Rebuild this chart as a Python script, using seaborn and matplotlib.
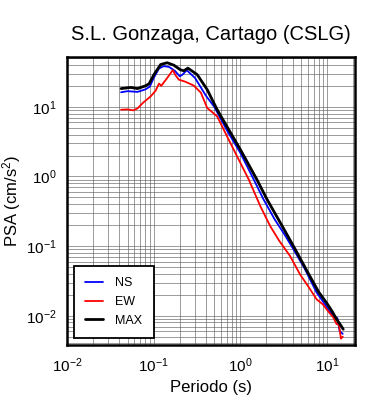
import seaborn as sns
import matplotlib.pyplot as plt
import pandas as pd

# Periods (s) and PSA (cm/s^2)
ns_period = [0.042, 0.05, 0.065, 0.08, 0.09, 0.1, 0.115, 0.13, 0.15, 0.175, 0.2, 0.215, 0.24,
             0.3, 0.4, 0.5, 0.7, 1.0, 1.4, 1.85, 2.5, 3.2, 4.1, 5.5, 7.6, 9.5, 10.8, 12.0, 13.2, 14.0, 15.2]
ns_psa = [16.2, 16.8, 16.4, 17.8, 19.5, 26.0, 35.5, 38.4, 37.5, 33.0, 27.5, 29.0, 33.6,
          26.0, 14.5, 10.0, 4.6, 2.18, 0.95, 0.47, 0.24, 0.15, 0.09, 0.048, 0.0215, 0.0145, 0.0116, 0.0098, 0.0092, 0.006, 0.0055]

ew_period = [0.042, 0.05, 0.058, 0.065, 0.075, 0.0925, 0.105, 0.115, 0.122, 0.143, 0.166, 0.18, 0.195,
             0.233, 0.29, 0.35, 0.414, 0.54, 0.7, 1.0, 1.25, 1.7, 2.21, 2.8, 3.75, 4.9, 6.0, 7.6, 9.0, 10.3, 11.8, 12.9, 13.7, 14.5, 15.2]
ew_psa = [9.1, 9.2, 8.9, 9.5, 11.4, 14.2, 17.0, 21.6, 20.0, 26.0, 33.6, 28.0, 24.6,
          22.9, 20.2, 16.0, 9.65, 7.3, 3.8, 1.57, 0.905, 0.375, 0.194, 0.12, 0.072, 0.039, 0.027, 0.0172, 0.0145, 0.0116, 0.0095, 0.0076, 0.0075, 0.0047, 0.005]

max_period = [0.042, 0.0545, 0.0649, 0.08, 0.0883, 0.1006, 0.12, 0.143, 0.171, 0.204, 0.223, 0.248,
              0.318, 0.414, 0.54, 0.75, 1.0, 1.55, 2.03, 3.0, 4.1, 6.0, 8.0, 9.9, 11.5, 12.9, 14.2, 15.4]
max_psa = [18.3, 19.0, 18.3, 20.0, 21.4, 29.0, 40.5, 43.0, 39.6, 34.0, 33.0, 36.0,
           29.0, 17.7, 9.1, 4.5, 2.44, 0.905, 0.47, 0.2, 0.1, 0.042, 0.022, 0.0153, 0.0115, 0.0089, 0.0075, 0.0064]

components = ['NS', 'EW', 'MAX']
colors = {'NS': 'blue', 'EW': 'red', 'MAX': 'black'}
widths = {'NS': 1.3, 'EW': 1.3, 'MAX': 2.0}

df = pd.concat([
    pd.DataFrame({'Periodo': ns_period, 'PSA': ns_psa, 'comp': 'NS'}),
    pd.DataFrame({'Periodo': ew_period, 'PSA': ew_psa, 'comp': 'EW'}),
    pd.DataFrame({'Periodo': max_period, 'PSA': max_psa, 'comp': 'MAX'}),
])

sns.set_style('white')
plt.rcParams['font.family'] = ['Liberation Sans', 'DejaVu Sans']
plt.rcParams['mathtext.fontset'] = 'custom'
plt.rcParams['mathtext.rm'] = 'Liberation Sans'
plt.rcParams['mathtext.it'] = 'Liberation Sans'
plt.rcParams['text.color'] = 'black'
plt.rcParams['axes.labelcolor'] = 'black'
plt.rcParams['xtick.labelcolor'] = 'black'
plt.rcParams['ytick.labelcolor'] = 'black'

fig = plt.figure(figsize=(3.9, 4.0), dpi=100)
ax = fig.add_axes([0.172, 0.1375, 0.738, 0.72])

for comp in components:
    sns.lineplot(data=df[df['comp'] == comp], x='Periodo', y='PSA', color=colors[comp],
                 lw=widths[comp], label=comp, ax=ax, sort=False, estimator=None)

ax.set_xscale('log')
ax.set_yscale('log')
ax.set_xlim(0.01, 21)
ax.set_ylim(0.0038, 52)
ax.grid(True, which='both', color='0.35', lw=0.6, alpha=0.7)
ax.tick_params(which='both', direction='out', color='0.5', labelsize=11)
ax.tick_params(which='major', length=4)
ax.tick_params(which='minor', length=3)
ax.tick_params(axis='x', pad=4)
for s in ax.spines.values():
    s.set_linewidth(1.8)
    s.set_color('black')

ax.set_title('S.L. Gonzaga, Cartago (CSLG)', fontsize=14.5, pad=12)
ax.set_xlabel('Periodo (s)', fontsize=12)
ax.set_ylabel('PSA (cm/s$^\\mathrm{2}$)', fontsize=12, labelpad=2)

leg = ax.legend(loc='lower left', fontsize=9, fancybox=False, framealpha=1,
                edgecolor='black', borderpad=0.9, handlelength=1.4, labelspacing=0.55,
                handletextpad=1.0, borderaxespad=0, bbox_to_anchor=(0.024, 0.024))
leg.get_frame().set_linewidth(1.3)

plt.savefig('out.png', dpi=100)
